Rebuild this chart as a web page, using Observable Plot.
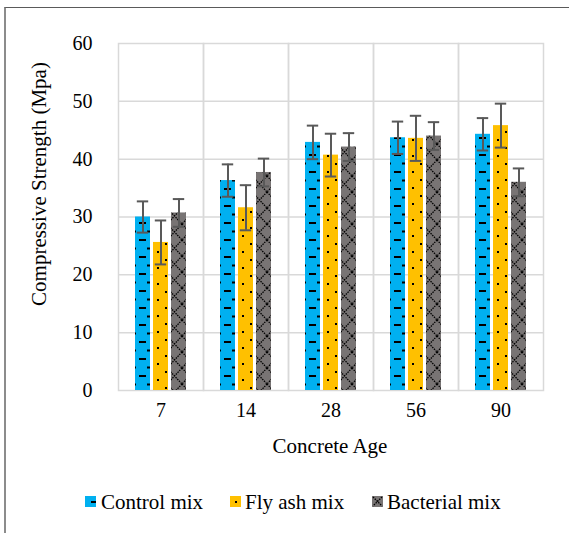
<!DOCTYPE html>
<html>
<head>
<meta charset="utf-8">
<script src="https://cdn.jsdelivr.net/npm/d3@7"></script>
<script src="https://cdn.jsdelivr.net/npm/@observablehq/plot@0.6"></script>
<style>
  html, body { margin: 0; padding: 0; background: #fff; }
  #wrap { position: relative; width: 569px; height: 533px; overflow: hidden; font-family: 'Liberation Serif', 'DejaVu Serif', serif; }
  #border { position: absolute; left: 4px; top: 7px; width: 600px; height: 600px; border-left: 2px solid #8c8c8c; border-top: 1.5px solid #5a5a5a; }
  #chart { position: absolute; left: 0; top: 0; }
  #chart svg, #chart svg text { font-family: 'Liberation Serif', 'DejaVu Serif', serif !important; }
  .leg { position: absolute; top: 490px; font-size: 21px; line-height: 24px; color: #000; white-space: nowrap; font-family: 'Liberation Serif', 'DejaVu Serif', serif; }
  .sw { position: absolute; top: 496px; width: 11px; height: 11px; }
</style>
</head>
<body>
<div id="wrap">
  <div id="border"></div>
  <div id="chart"></div>
</div>
<script>
// ---- data ----
const ages = ["7", "14", "28", "56", "90"];
const series = ["Control mix", "Fly ash mix", "Bacterial mix"];
const controlMix = [30.0, 36.3, 42.9, 43.7, 44.3];
const flyAshMix = [25.6, 31.6, 40.7, 43.6, 45.8];
const bacterialMix = [30.7, 37.7, 42.1, 44.0, 36.0];
const controlErr = [2.7, 2.8, 2.9, 2.8, 2.8];
const flyAshErr = [3.8, 3.9, 3.7, 3.9, 3.8];
const bacterialErr = [2.4, 2.4, 2.4, 2.4, 2.4];
const yTicks = [0, 10, 20, 30, 40, 50, 60];

const vals = [controlMix, flyAshMix, bacterialMix];
const errs = [controlErr, flyAshErr, bacterialErr];
const data = ages.flatMap((a, i) => series.map((s, j) => ({age: a, series: s, value: vals[j][i], err: errs[j][i]})));

const patIds = ["patControl", "patFly", "patBact"];
const serif = "'Liberation Serif', 'DejaVu Serif', serif";

const svg = Plot.plot({
  width: 569,
  height: 470,
  marginTop: 43,
  marginBottom: 80,
  marginLeft: 116,
  marginRight: 25,
  style: {fontFamily: serif, fontSize: "20px", color: "#000", background: "transparent"},
  fx: {domain: ages, padding: 0, label: null},
  x: {domain: series, paddingInner: 0.18, paddingOuter: 0.85, axis: null},
  y: {domain: [0, 60], label: null},
  color: {domain: series, range: patIds.map(id => `url(#${id})`)},
  marks: [
    Plot.ruleY(yTicks.slice(1, -1), {stroke: "#d9d9d9", strokeWidth: 1.5}),
    Plot.frame({stroke: "#d9d9d9", strokeWidth: 1.5}),
    Plot.barY(data, {fx: "age", x: "series", y: "value", fill: "series"}),
    Plot.ruleX(data, {fx: "age", x: "series", y1: d => d.value - d.err, y2: d => d.value + d.err, stroke: "#595959", strokeWidth: 2}),
    Plot.tickY(data, {fx: "age", x: "series", y: d => d.value - d.err, stroke: "#595959", strokeWidth: 2, insetLeft: 1.8, insetRight: 1.8}),
    Plot.tickY(data, {fx: "age", x: "series", y: d => d.value + d.err, stroke: "#595959", strokeWidth: 2, insetLeft: 1.8, insetRight: 1.8}),
    Plot.axisY({ticks: yTicks, tickSize: 0, tickPadding: 26, label: null, tickFormat: d => String(d)}),
    Plot.axisFx({anchor: "bottom", tickSize: 0, tickPadding: 12, label: null})
  ]
});

// patterns
const defs = d3.create("svg:defs");
const pc = defs.append("pattern").attr("id", "patControl").attr("patternUnits", "userSpaceOnUse").attr("width", 16).attr("height", 17);
pc.append("rect").attr("width", 16).attr("height", 17).attr("fill", "#00B0F0");
pc.append("rect").attr("x", 9).attr("y", 1).attr("width", 7).attr("height", 2).attr("fill", "#000");
pc.append("rect").attr("x", 1).attr("y", 9.5).attr("width", 5).attr("height", 2).attr("fill", "#000");
const pf = defs.append("pattern").attr("id", "patFly").attr("patternUnits", "userSpaceOnUse").attr("width", 16).attr("height", 16);
pf.append("rect").attr("width", 16).attr("height", 16).attr("fill", "#FFC000");
pf.append("rect").attr("x", 3).attr("y", 3).attr("width", 2).attr("height", 2).attr("fill", "#000");
pf.append("rect").attr("x", 11).attr("y", 11).attr("width", 2).attr("height", 2).attr("fill", "#000");
const pb = defs.append("pattern").attr("id", "patBact").attr("patternUnits", "userSpaceOnUse").attr("width", 15).attr("height", 16);
pb.append("rect").attr("width", 15).attr("height", 16).attr("fill", "#787474");
pb.append("path").attr("d", "M0,0L15,16M15,0L0,16").attr("stroke", "#000").attr("stroke-width", 1.3).attr("stroke-dasharray", "1.5,1");
svg.insertBefore(defs.node(), svg.firstChild);

const s = d3.select(svg);
s.append("text")
  .attr("transform", "translate(41,184) rotate(-90)")
  .attr("text-anchor", "middle")
  .attr("dominant-baseline", "middle")
  .attr("font-size", 21)
  .attr("fill", "#000")
  .text("Compressive Strength (Mpa)");
s.append("text")
  .attr("x", 330).attr("y", 448)
  .attr("text-anchor", "middle")
  .attr("dominant-baseline", "middle")
  .attr("font-size", 21)
  .attr("fill", "#000")
  .text("Concrete Age");

document.getElementById("chart").appendChild(svg);

// legend
const wrap = document.getElementById("wrap");
const legX = [[85, 101], [230, 245], [372, 387]];
series.forEach((name, j) => {
  const sw = document.createElementNS("http://www.w3.org/2000/svg", "svg");
  sw.setAttribute("class", "sw");
  sw.setAttribute("width", 11); sw.setAttribute("height", 11);
  sw.style.left = legX[j][0] + "px";
  const sel = d3.select(sw);
  if (j === 0) {
    sel.append("rect").attr("width", 11).attr("height", 11).attr("fill", "#00B0F0");
    sel.append("rect").attr("x", 6).attr("y", 5).attr("width", 5).attr("height", 2).attr("fill", "#000");
  } else if (j === 1) {
    sel.append("rect").attr("width", 11).attr("height", 11).attr("fill", "#FFC000");
    sel.append("rect").attr("x", 5).attr("y", 5).attr("width", 2).attr("height", 2).attr("fill", "#000");
  } else {
    sel.append("rect").attr("width", 11).attr("height", 11).attr("fill", "#787474");
    sel.append("path").attr("d", "M1,1L10,10M10,1L1,10").attr("stroke", "#000").attr("stroke-width", 1.3).attr("stroke-dasharray", "1.5,1");
  }
  wrap.appendChild(sw);
  const t = document.createElement("div");
  t.className = "leg";
  t.style.left = legX[j][1] + "px";
  t.textContent = name;
  wrap.appendChild(t);
});
</script>
</body>
</html>
